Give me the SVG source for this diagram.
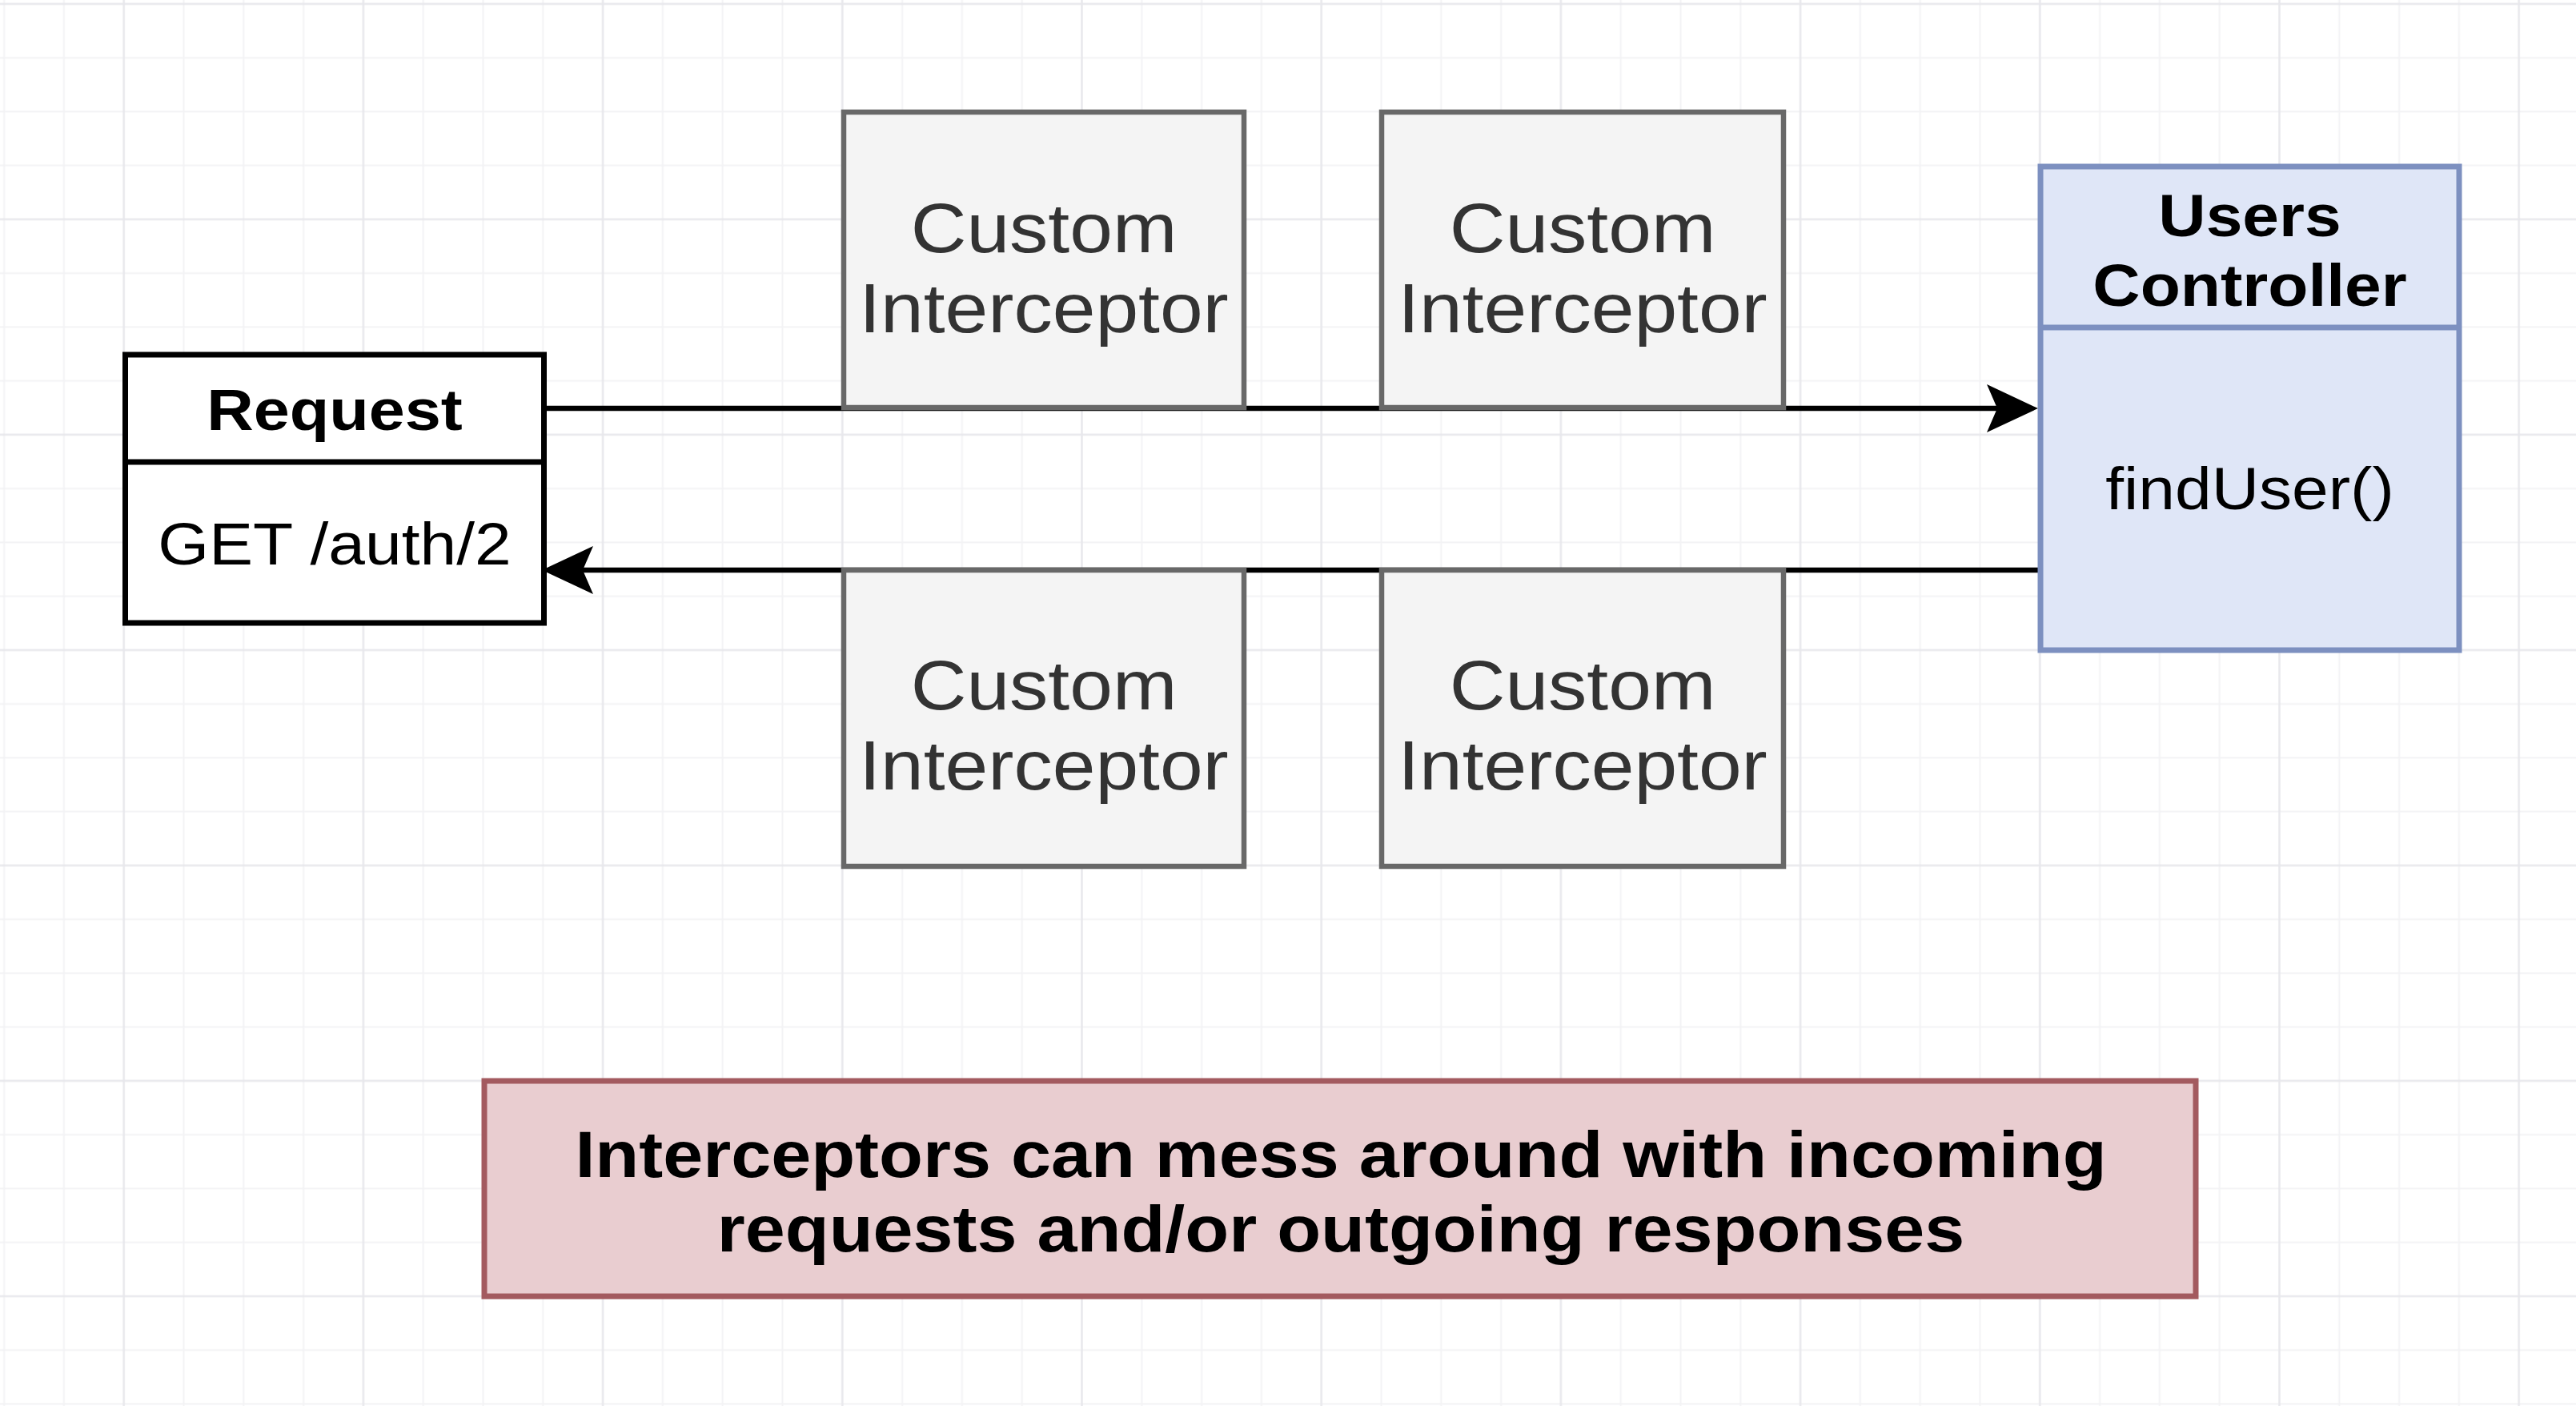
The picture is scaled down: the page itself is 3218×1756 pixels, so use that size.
<svg xmlns="http://www.w3.org/2000/svg" width="3218" height="1756" viewBox="0 0 3218 1756">
  <defs>
    <pattern id="grid" patternUnits="userSpaceOnUse" x="-32.3" y="-28.6" width="299.2" height="269">
      <g stroke="#f3f3f5" stroke-width="2">
        <line x1="37.4" y1="0" x2="37.4" y2="269"/>
        <line x1="112.2" y1="0" x2="112.2" y2="269"/>
        <line x1="261.8" y1="0" x2="261.8" y2="269"/>
        <line x1="0" y1="100.85" x2="299.2" y2="100.85"/>
        <line x1="0" y1="168.1" x2="299.2" y2="168.1"/>
        <line x1="0" y1="235.35" x2="299.2" y2="235.35"/>
      </g>
      <g stroke="#e8e8ec" stroke-width="2.5">
        <line x1="187" y1="0" x2="187" y2="269"/>
        <line x1="0" y1="33.6" x2="299.2" y2="33.6"/>
      </g>
    </pattern>
    <marker id="arrow" viewBox="0 0 64 60" refX="13" refY="30" markerWidth="64" markerHeight="60" markerUnits="userSpaceOnUse" orient="auto">
      <path d="M0,0 L64,30 L0,60 L13,30 Z" fill="#000"/>
    </marker>
  </defs>
  <style>
    text { font-family: "Liberation Sans", Arial, Helvetica, sans-serif; text-anchor: middle; }
    .ic-box { fill: #f4f4f4; stroke: #686868; stroke-width: 6.5; }
    .ic-text { font-size: 87px; fill: #333333; }
    .req-box { fill: #ffffff; stroke: #000000; stroke-width: 7; }
    .ctl-box { fill: #dfe6f7; stroke: #7d90c0; stroke-width: 7; }
    .note-box { fill: #e9cdd0; stroke: #a35a5f; stroke-width: 7; }
    .title { font-size: 73px; font-weight: bold; fill: #000; }
    .ctl-title { font-size: 74px; font-weight: bold; fill: #000; }
    .body { font-size: 74px; fill: #000; }
    .note-text { font-size: 81px; font-weight: bold; fill: #000; }
    .conn { fill: none; stroke: #000; stroke-width: 6.5; }
  </style>

  <rect x="0" y="0" width="3218" height="1756" fill="#ffffff"/>
  <rect x="0" y="0" width="3218" height="1756" fill="url(#grid)"/>

  <g id="connectors">
    <line class="conn" x1="680" y1="510" x2="2495" y2="510" marker-end="url(#arrow)"/>
    <line class="conn" x1="2549" y1="712" x2="728" y2="712" marker-end="url(#arrow)"/>
  </g>

  <g id="request">
    <rect class="req-box" x="156.5" y="443" width="523" height="335"/>
    <line x1="156.5" y1="577" x2="679.5" y2="577" stroke="#000" stroke-width="7"/>
    <text class="title" transform="matrix(1.11 0 0 1 418 537)" x="0" y="0">Request</text>
    <text class="body" transform="matrix(1.11 0 0 1 418 705)" x="0" y="0">GET /auth/2</text>
  </g>

  <g id="interceptor-in-1">
    <rect class="ic-box" x="1054" y="140" width="500" height="369"/>
    <text class="ic-text" transform="matrix(1.11 0 0 1 1304 0)"><tspan x="0" y="315">Custom</tspan><tspan x="0" y="415">Interceptor</tspan></text>
  </g>
  <g id="interceptor-in-2">
    <rect class="ic-box" x="1726" y="140" width="502" height="369"/>
    <text class="ic-text" transform="matrix(1.11 0 0 1 1977 0)"><tspan x="0" y="315">Custom</tspan><tspan x="0" y="415">Interceptor</tspan></text>
  </g>
  <g id="interceptor-out-1">
    <rect class="ic-box" x="1054" y="712" width="500" height="370"/>
    <text class="ic-text" transform="matrix(1.11 0 0 1 1304 0)"><tspan x="0" y="886">Custom</tspan><tspan x="0" y="986">Interceptor</tspan></text>
  </g>
  <g id="interceptor-out-2">
    <rect class="ic-box" x="1726" y="712" width="502" height="370"/>
    <text class="ic-text" transform="matrix(1.11 0 0 1 1977 0)"><tspan x="0" y="886">Custom</tspan><tspan x="0" y="986">Interceptor</tspan></text>
  </g>

  <g id="users-controller">
    <rect class="ctl-box" x="2549" y="208" width="523" height="604"/>
    <line x1="2549" y1="409" x2="3072" y2="409" stroke="#7d90c0" stroke-width="7"/>
    <text class="ctl-title" transform="matrix(1.11 0 0 1 2810.5 0)"><tspan x="0" y="295">Users</tspan><tspan x="0" y="382">Controller</tspan></text>
    <text class="body" transform="matrix(1.11 0 0 1 2810.5 636)" x="0" y="0">findUser()</text>
  </g>

  <g id="note">
    <rect class="note-box" x="605" y="1350" width="2138" height="269"/>
    <text class="note-text" transform="matrix(1.11 0 0 1 1675 0)"><tspan x="0" y="1470">Interceptors can mess around with incoming</tspan><tspan x="0" y="1563">requests and/or outgoing responses</tspan></text>
  </g>
</svg>
